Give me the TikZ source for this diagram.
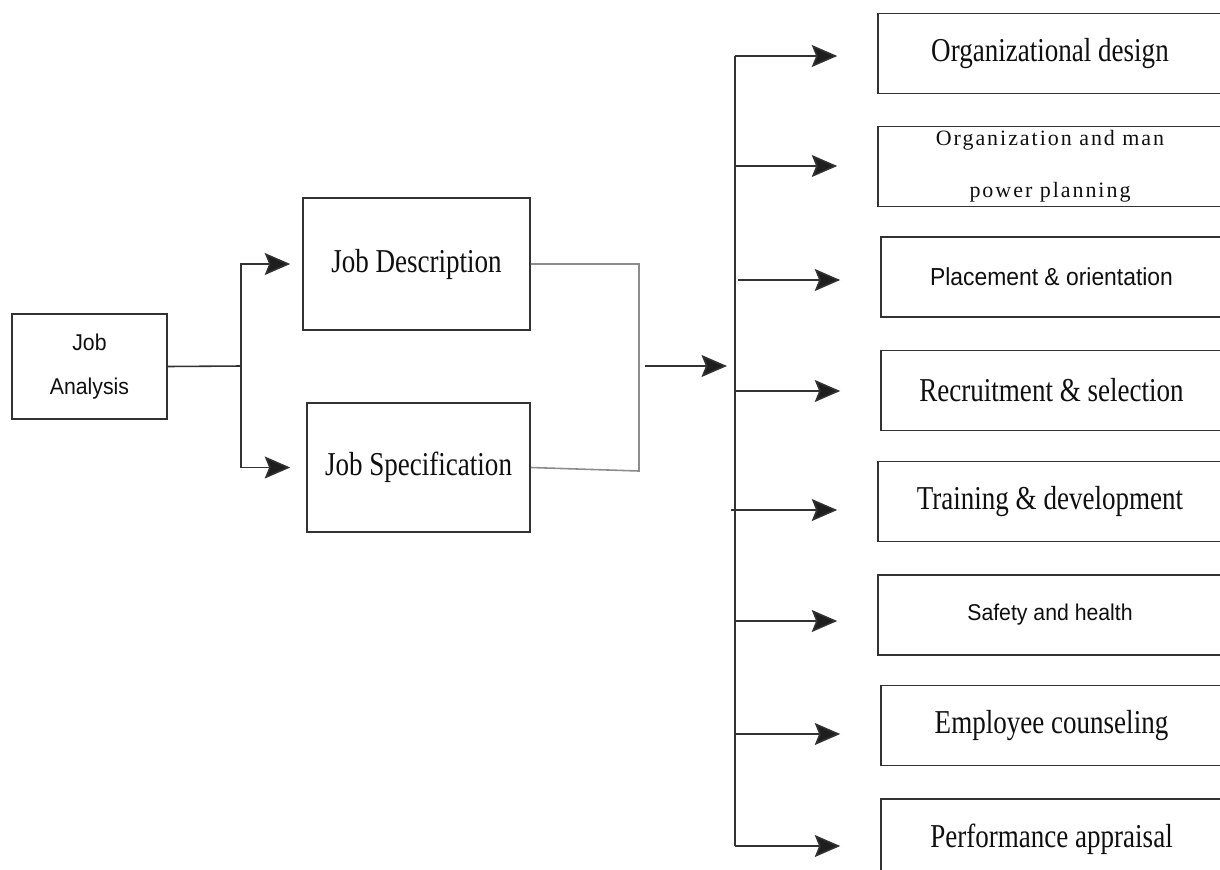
\documentclass[tikz,border=0pt]{standalone}
\usepackage{fontspec}
\setmainfont{Liberation Serif}
\newfontfamily\narrowserif[FakeStretch=0.81]{Liberation Serif}
\newfontfamily\narrowsans[FakeStretch=0.93]{Liberation Sans}
\newfontfamily\spacedserif[LetterSpace=9]{Liberation Serif}
\usetikzlibrary{arrows.meta}
\definecolor{linegray}{RGB}{50,50,50}
\definecolor{tipblack}{RGB}{30,30,30}
\definecolor{bracketgray}{RGB}{140,140,140}
\definecolor{textblack}{RGB}{15,15,15}

\begin{document}
\begin{tikzpicture}[
    x=0.02cm, y=-0.02cm,
    box/.style={draw=linegray, line width=0.9pt, inner sep=0pt, text=textblack, align=center},
    serifbox/.style={box, font=\narrowserif\fontsize{19}{22}\selectfont},
    sansbox/.style={box, font=\narrowsans\fontsize{13}{15}\selectfont},
    outbox/.style={minimum width=6.88cm, minimum height=1.6cm},
    arrow/.style={-{Stealth[length=14.5pt, width=12.5pt, inset=2.5pt, fill=tipblack]}, line width=0.9pt, draw=linegray},
    bus/.style={line width=0.9pt, draw=linegray},
    bracket/.style={line width=0.9pt, draw=bracketgray}
]
    \clip (0,0) rectangle (1220,869);

    % Job analysis and its two documents
    \node[sansbox, minimum width=3.1cm, minimum height=2.1cm, font=\narrowsans\fontsize{13}{25.5}\selectfont] (analysis) at (89.5,366.5) {Job\\Analysis};
    \node[serifbox, minimum width=4.54cm, minimum height=2.64cm] (description) at (416.5,264) {Job Description};
    \node[serifbox, minimum width=4.46cm, minimum height=2.58cm] (specification) at (418.5,467.5) {Job Specification};

    % Uses
    \node[serifbox, outbox] (design) at (1050,53.5) {Organizational design};
    \node[box, outbox, font=\spacedserif\fontsize{12.5}{29.5}\selectfont] (manpower) at (1050,166.5) {Organization and man\\power planning};
    \node[sansbox, outbox, minimum width=6.82cm, font=\narrowsans\fontsize{14}{16}\selectfont] (placement) at (1051.5,277) {Placement \& orientation};
    \node[serifbox, outbox, minimum width=6.82cm] (recruitment) at (1051.5,390.5) {Recruitment \& selection};
    \node[serifbox, outbox] (training) at (1050,501.5) {Training \& development};
    \node[sansbox, outbox] (safety) at (1050,615) {Safety and health};
    \node[serifbox, outbox, minimum width=6.82cm] (counseling) at (1051.5,725.5) {Employee counseling};
    \node[serifbox, outbox, minimum width=6.82cm] (appraisal) at (1051.5,839) {Performance appraisal};

    % Junction points
    \coordinate (fork) at (241,366);
    \coordinate (jointop) at (639,264);
    \coordinate (joinbot) at (639,471);
    \coordinate (joinout) at (645,366);
    \coordinate (hubin) at (727,366);
    \coordinate (r1) at (735,56);
    \coordinate (r2) at (735,166);
    \coordinate (r3) at (738,280);
    \coordinate (r4) at (735,391);
    \coordinate (r5) at (731,510);
    \coordinate (r6) at (735,621);
    \coordinate (r7) at (735,734);
    \coordinate (r8) at (735,846);

    % Connectors
    \draw[bus] (analysis.east) -- (fork);
    \draw[arrow, shorten >=0.24cm] (fork) |- (description.west);
    \draw[arrow, shorten >=0.32cm] (fork) |- (specification.west);
    \draw[bracket] (description.east) -- (jointop) -- (joinbot) -- (specification.east);
    \draw[arrow] (joinout) -- (hubin);
    \draw[bus] (r1) -- (r8);
    \draw[arrow, shorten >=0.8cm] (r1) -- (r1 -| design.west);
    \draw[arrow, shorten >=0.8cm] (r2) -- (r2 -| manpower.west);
    \draw[arrow, shorten >=0.8cm] (r3) -- (r3 -| placement.west);
    \draw[arrow, shorten >=0.8cm] (r4) -- (r4 -| recruitment.west);
    \draw[arrow, shorten >=0.8cm] (r5) -- (r5 -| training.west);
    \draw[arrow, shorten >=0.8cm] (r6) -- (r6 -| safety.west);
    \draw[arrow, shorten >=0.8cm] (r7) -- (r7 -| counseling.west);
    \draw[arrow, shorten >=0.8cm] (r8) -- (r8 -| appraisal.west);
\end{tikzpicture}
\end{document}
